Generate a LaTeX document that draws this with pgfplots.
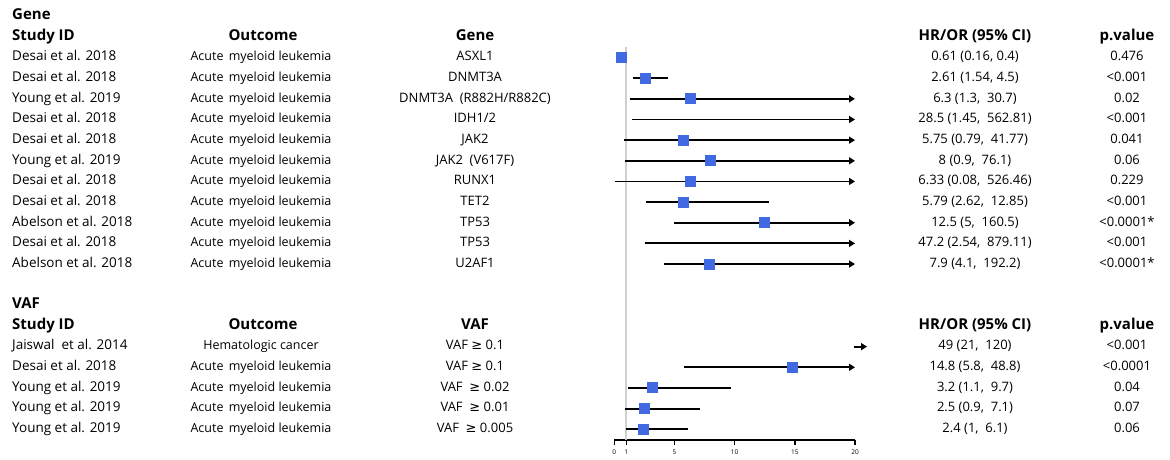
\documentclass[border=0pt]{standalone}
\usepackage{fontspec}
\setmainfont{Open Sans}
\newfontfamily\dv{DejaVu Sans}
\usepackage{pgfplots}
\pgfplotsset{compat=1.18}
\usetikzlibrary{arrows.meta}
\definecolor{sqblue}{RGB}{65,105,225}
\definecolor{refgray}{RGB}{208,208,208}
\newcommand{\vafge}{{\dv\char"2265}}
\newcommand{\aml}{Acute\hspace{0.42em}myeloid leukemia}

\begin{document}
\begin{tikzpicture}[x=1pt,y=1pt,
  txt/.style={inner sep=0pt, text height=1.5ex, text depth=.25ex, font=\fontsize{13}{15}\selectfont},
  sid/.style={txt, anchor=west, font=\fontsize{13.5}{15}\selectfont},
  oc/.style={txt, font=\fontsize{12.5}{15}\selectfont},
  hdr/.style={txt, font=\fontsize{15}{17}\selectfont\bfseries},
  ci/.style={black, line width=1.8pt},
  ca/.style={ci, -{Triangle[length=6pt,width=7pt]}}]
\useasboundingbox (0,0) rectangle (1170,460);

\begin{axis}[
  at={(614.3pt,20pt)}, anchor=south west,
  scale only axis, width=240.7pt, height=393pt,
  xmin=0, xmax=20, ymin=0.49, ymax=19.52, y dir=reverse,
  axis x line*=bottom, axis y line=none,
  xtick={0,1,5,10,15,20}, tick align=outside,
  major tick length=5pt,
  x axis line style={line width=1.8pt},
  every tick/.style={black, line width=1.6pt},
  /pgf/number format/assume math mode=true,
  xticklabel style={font=\fontsize{6.5}{7}\selectfont, yshift=-1pt},
  clip=false,
]
% reference line at 1
\addplot[refgray, line width=2pt] coordinates {(1,0.49) (1,19.52)};

% confidence intervals (clipped at 20 with an arrow)
\addplot[ci] coordinates {(0.16,1) (0.4,1)};
\addplot[ci] coordinates {(1.54,2) (4.5,2)};
\addplot[ca] coordinates {(1.3,3) (20,3)};
\addplot[ca] coordinates {(1.45,4) (20,4)};
\addplot[ca] coordinates {(0.79,5) (20,5)};
\addplot[ca] coordinates {(0.9,6) (20,6)};
\addplot[ca] coordinates {(0.08,7) (20,7)};
\addplot[ci] coordinates {(2.62,8) (12.85,8)};
\addplot[ca] coordinates {(5,9) (20,9)};
\addplot[ca] coordinates {(2.54,10) (20,10)};
\addplot[ca] coordinates {(4.1,11) (20,11)};
\addplot[ca] coordinates {(19.9,15) (21,15)};
\addplot[ca] coordinates {(5.8,16) (20,16)};
\addplot[ci] coordinates {(1.1,17) (9.7,17)};
\addplot[ci] coordinates {(0.9,18) (7.1,18)};
\addplot[ci] coordinates {(1,19) (6.1,19)};

% point estimates
\addplot[only marks, mark=square*, mark size=5pt,
  mark options={draw=sqblue, fill=sqblue, line width=0pt}] table {
x y
0.61 1
2.61 2
6.3 3
5.75 5
8 6
6.33 7
5.79 8
12.5 9
7.9 11
14.8 16
3.2 17
2.5 18
2.4 19
};
\end{axis}

% table text
\node[hdr, anchor=west] at (12, 443.8) {Gene};
\node[hdr, anchor=west] at (12, 423.2) {Study ID};
\node[hdr] at (263, 423.2) {Outcome};
\node[hdr] at (475, 423.2) {Gene};
\node[hdr] at (975, 423.2) {HR/OR (95\% CI)};
\node[hdr] at (1127, 423.2) {p.value};

\node[hdr, anchor=west] at (12, 154.7) {VAF};
\node[hdr, anchor=west] at (12, 134.1) {Study ID};
\node[hdr] at (263, 134.1) {Outcome};
\node[hdr] at (475, 134.1) {VAF};
\node[hdr] at (975, 134.1) {HR/OR (95\% CI)};
\node[hdr] at (1127, 134.1) {p.value};

\foreach \i/\sid/\out/\gen/\hr/\pv in {
  1/{Desai et al. 2018}/{\aml}/{ASXL1}/{0.61 (0.16, 0.4)}/{0.476},
  2/{Desai et al. 2018}/{\aml}/{DNMT3A}/{2.61 (1.54, 4.5)}/{<0.001},
  3/{Young et al. 2019}/{\aml}/{DNMT3A\ \ (R882H/R882C)}/{6.3 (1.3,\ \ 30.7)}/{0.02},
  4/{Desai et al. 2018}/{\aml}/{IDH1/2}/{28.5 (1.45,\ \ 562.81)}/{<0.001},
  5/{Desai et al. 2018}/{\aml}/{JAK2}/{5.75 (0.79,\ \ 41.77)}/{0.041},
  6/{Young et al. 2019}/{\aml}/{JAK2\ \ (V617F)}/{8 (0.9,\ \ 76.1)}/{0.06},
  7/{Desai et al. 2018}/{\aml}/{RUNX1}/{6.33 (0.08,\ \ 526.46)}/{0.229},
  8/{Desai et al. 2018}/{\aml}/{TET2}/{5.79 (2.62,\ \ 12.85)}/{<0.001},
  9/{Abelson et al. 2018}/{\aml}/{TP53}/{12.5 (5,\ \ 160.5)}/{<0.0001*},
  10/{Desai et al. 2018}/{\aml}/{TP53}/{47.2 (2.54,\ \ 879.11)}/{<0.001},
  11/{Abelson et al. 2018}/{\aml}/{U2AF1}/{7.9 (4.1,\ \ 192.2)}/{<0.0001*},
  15/{Jaiswal\ \ et al. 2014}/{Hematologic cancer}/{VAF \vafge\ 0.1}/{49 (21,\ \ 120)}/{<0.001},
  16/{Desai et al. 2018}/{\aml}/{VAF \vafge\ 0.1}/{14.8 (5.8,\ \ 48.8)}/{<0.0001},
  17/{Young et al. 2019}/{\aml}/{VAF\ \ \vafge\ 0.02}/{3.2 (1.1,\ \ 9.7)}/{0.04},
  18/{Young et al. 2019}/{\aml}/{VAF\ \ \vafge\ 0.01}/{2.5 (0.9,\ \ 7.1)}/{0.07},
  19/{Young et al. 2019}/{\aml}/{VAF\ \ \vafge\ 0.005}/{2.4 (1,\ \ 6.1)}/{0.06}} {
  \pgfmathsetmacro{\yy}{402.5-20.65*(\i-1)}
  \node[sid] at (12, \yy) {\sid};
  \node[oc] at (261, \yy) {\out};
  \node[txt] at (475, \yy) {\gen};
  \node[txt] at (975, \yy) {\hr};
  \node[txt] at (1127, \yy) {\pv};
}
\end{tikzpicture}
\end{document}
